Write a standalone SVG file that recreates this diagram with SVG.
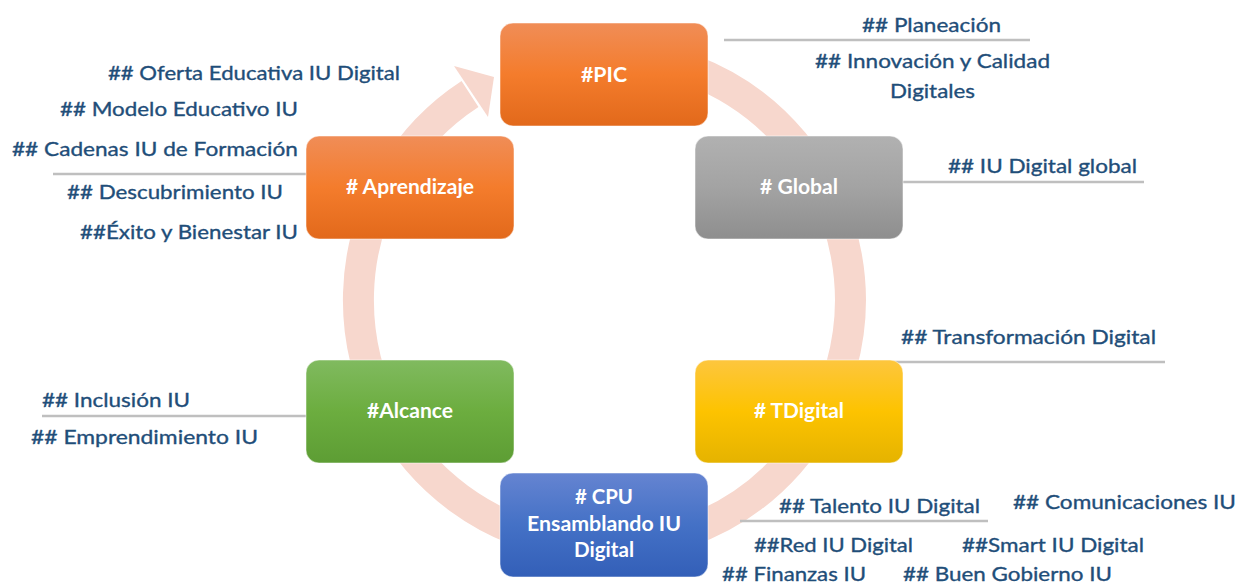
<svg xmlns="http://www.w3.org/2000/svg" width="1239" height="584" viewBox="0 0 1239 584">
<style>
.lbl{font-family:Lato,"Open Sans","Liberation Sans",sans-serif;font-size:20px;fill:#1f4e79;stroke:#1f4e79;stroke-width:0.35;}
.bx{font-family:Lato,"Open Sans","Liberation Sans",sans-serif;font-size:20px;font-weight:bold;fill:#ffffff;text-anchor:middle;}
.ln{stroke:#bfbfbf;stroke-width:2.5;fill:none;}
.box{stroke:#ffffff;stroke-opacity:0.5;stroke-width:1;}
</style>
<defs>
<linearGradient id="gOr" x1="0" y1="0" x2="0" y2="1"><stop offset="0" stop-color="#f08d57"/><stop offset="0.5" stop-color="#f47c2c"/><stop offset="1" stop-color="#e2691b"/></linearGradient>
<linearGradient id="gGr" x1="0" y1="0" x2="0" y2="1"><stop offset="0" stop-color="#b1b1b1"/><stop offset="0.5" stop-color="#a3a3a3"/><stop offset="1" stop-color="#8e8e8e"/></linearGradient>
<linearGradient id="gYe" x1="0" y1="0" x2="0" y2="1"><stop offset="0" stop-color="#fdc63e"/><stop offset="0.5" stop-color="#fdc300"/><stop offset="1" stop-color="#e5b300"/></linearGradient>
<linearGradient id="gGn" x1="0" y1="0" x2="0" y2="1"><stop offset="0" stop-color="#80ba5f"/><stop offset="0.5" stop-color="#6cad3f"/><stop offset="1" stop-color="#5d9d34"/></linearGradient>
<linearGradient id="gBl" x1="0" y1="0" x2="0" y2="1"><stop offset="0" stop-color="#6584d1"/><stop offset="0.5" stop-color="#4471c6"/><stop offset="1" stop-color="#335fb8"/></linearGradient>
</defs>
<g id="cycle">
<path d="M582.6,55 A246,246 0 1 1 470,94" fill="none" stroke="#f7d7cd" stroke-width="31"/>
<polygon points="454,66 494,77 488,117" fill="#f7d7cd"/>
</g>
<g id="connectors">
<line class="ln" x1="724" y1="40" x2="1030" y2="40"/>
<line class="ln" x1="53" y1="174" x2="306" y2="174"/>
<line class="ln" x1="903" y1="182" x2="1144" y2="182"/>
<line class="ln" x1="886" y1="362" x2="1165" y2="362"/>
<line class="ln" x1="42" y1="416" x2="306" y2="416"/>
<line class="ln" x1="740" y1="521" x2="988" y2="521"/>
</g>
<g id="node-pic"><rect class="box" x="500" y="23" width="208" height="103" rx="13" fill="url(#gOr)"/><text class="bx" x="604" y="82" textLength="46" lengthAdjust="spacingAndGlyphs">#PIC</text></g>
<g id="node-aprendizaje"><rect class="box" x="306" y="136" width="208" height="103" rx="13" fill="url(#gOr)"/><text class="bx" x="410" y="194" textLength="128" lengthAdjust="spacingAndGlyphs"># Aprendizaje</text></g>
<g id="node-global"><rect class="box" x="695" y="136" width="208" height="103" rx="13" fill="url(#gGr)"/><text class="bx" x="799" y="194" textLength="78" lengthAdjust="spacingAndGlyphs"># Global</text></g>
<g id="node-tdigital"><rect class="box" x="695" y="360" width="208" height="103" rx="13" fill="url(#gYe)"/><text class="bx" x="799" y="418" textLength="90" lengthAdjust="spacingAndGlyphs"># TDigital</text></g>
<g id="node-alcance"><rect class="box" x="306" y="360" width="208" height="103" rx="13" fill="url(#gGn)"/><text class="bx" x="410" y="418" textLength="86" lengthAdjust="spacingAndGlyphs">#Alcance</text></g>
<g id="node-cpu"><rect class="box" x="500" y="473" width="208" height="104" rx="13" fill="url(#gBl)"/>
<text class="bx" x="604" y="504" textLength="58" lengthAdjust="spacingAndGlyphs"># CPU</text>
<text class="bx" x="604" y="531" textLength="154" lengthAdjust="spacingAndGlyphs">Ensamblando IU</text>
<text class="bx" x="604" y="557" textLength="60" lengthAdjust="spacingAndGlyphs">Digital</text></g>
<g id="labels">
<text class="lbl" x="862" y="32" textLength="139" lengthAdjust="spacingAndGlyphs">## Planeación</text>
<text class="lbl" x="815" y="68" textLength="235" lengthAdjust="spacingAndGlyphs">## Innovación y Calidad</text>
<text class="lbl" x="890" y="98" textLength="85" lengthAdjust="spacingAndGlyphs">Digitales</text>
<text class="lbl" x="108" y="80" textLength="292" lengthAdjust="spacingAndGlyphs">## Oferta Educativa IU Digital</text>
<text class="lbl" x="60" y="116" textLength="238" lengthAdjust="spacingAndGlyphs">## Modelo Educativo IU</text>
<text class="lbl" x="12" y="156" textLength="286" lengthAdjust="spacingAndGlyphs">## Cadenas IU de Formación</text>
<text class="lbl" x="67" y="199" textLength="216" lengthAdjust="spacingAndGlyphs">## Descubrimiento IU</text>
<text class="lbl" x="80" y="239" textLength="218" lengthAdjust="spacingAndGlyphs">##Éxito y Bienestar IU</text>
<text class="lbl" x="948" y="173" textLength="189" lengthAdjust="spacingAndGlyphs">## IU Digital global</text>
<text class="lbl" x="901" y="344" textLength="255" lengthAdjust="spacingAndGlyphs">## Transformación Digital</text>
<text class="lbl" x="42" y="407" textLength="148" lengthAdjust="spacingAndGlyphs">## Inclusión IU</text>
<text class="lbl" x="31" y="444" textLength="227" lengthAdjust="spacingAndGlyphs">## Emprendimiento IU</text>
<text class="lbl" x="779" y="513" textLength="201" lengthAdjust="spacingAndGlyphs">## Talento IU Digital</text>
<text class="lbl" x="1013" y="509" textLength="223" lengthAdjust="spacingAndGlyphs">## Comunicaciones IU</text>
<text class="lbl" x="754" y="552" textLength="159" lengthAdjust="spacingAndGlyphs">##Red IU Digital</text>
<text class="lbl" x="962" y="552" textLength="182" lengthAdjust="spacingAndGlyphs">##Smart IU Digital</text>
<text class="lbl" x="722" y="581" textLength="144" lengthAdjust="spacingAndGlyphs">## Finanzas IU</text>
<text class="lbl" x="903" y="581" textLength="209" lengthAdjust="spacingAndGlyphs">## Buen Gobierno IU</text>
</g>
</svg>
